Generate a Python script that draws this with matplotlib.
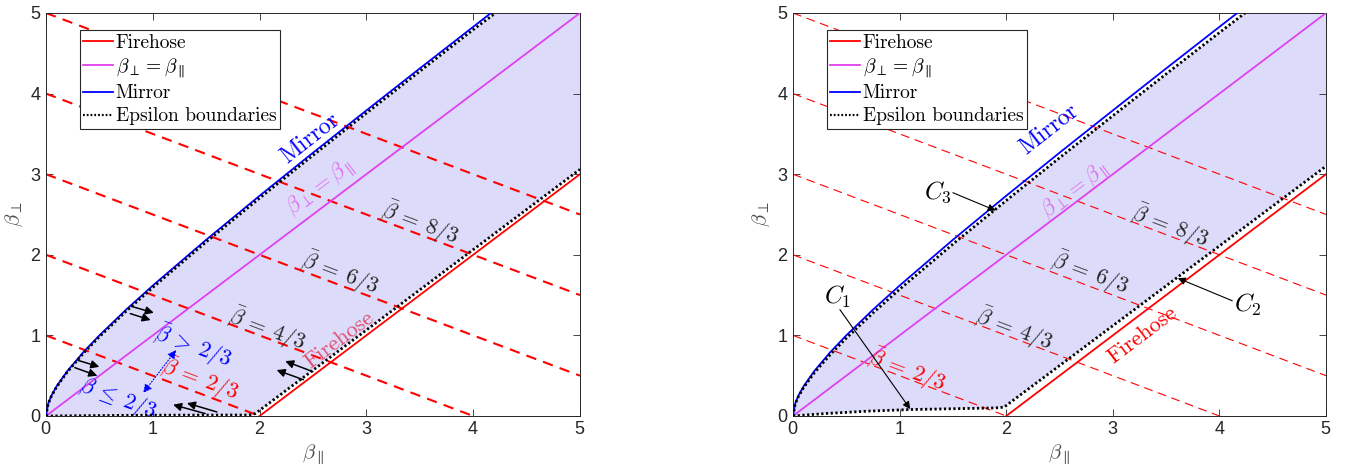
import matplotlib.pyplot as plt
from matplotlib.lines import Line2D

plt.rcParams['font.family'] = ['cmr10', 'DejaVu Serif']
plt.rcParams['mathtext.fontset'] = 'cm'
plt.rcParams['axes.formatter.use_mathtext'] = True
plt.rcParams['axes.unicode_minus'] = False

# firehose threshold and isotropy line
fire_x = [2.0, 5.0]
fire_y = [0.0, 3.0]
iso_x = [0.0, 5.0]
iso_y = [0.0, 5.0]

# mirror threshold
mirror_x = [0.0, 0.02, 0.05, 0.1, 0.2, 0.35, 0.5, 0.75, 1.0, 1.5, 2.0, 2.5, 3.0, 3.5, 4.0, 4.2]
mirror_y = [0.0, 0.152, 0.25, 0.37, 0.558, 0.792, 1.0, 1.319, 1.618, 2.186, 2.732, 3.266, 3.791, 4.312, 4.828, 5.034]

# epsilon boundaries, left panel
epsA_up_x = [0.0, 0.02, 0.05, 0.1, 0.2, 0.35, 0.5, 0.75, 1.0, 1.5, 2.0, 2.5, 3.0, 3.5, 4.0, 4.21]
epsA_up_y = [0.0, 0.148, 0.244, 0.362, 0.547, 0.778, 0.983, 1.299, 1.595, 2.16, 2.703, 3.234, 3.758, 4.277, 4.793, 5.0]
epsA_lo_x = [0.0, 1.0, 1.9, 1.96, 5.0]
epsA_lo_y = [0.0, 0.01, 0.012, 0.03, 3.06]

# epsilon boundaries, right panel
epsB_up_x = [0.0, 0.02, 0.05, 0.1, 0.2, 0.35, 0.5, 0.75, 1.0, 1.5, 2.0, 2.5, 3.0, 3.5, 4.0, 4.24]
epsB_up_y = [0.0, 0.145, 0.239, 0.354, 0.536, 0.763, 0.966, 1.278, 1.572, 2.133, 2.673, 3.203, 3.725, 4.243, 4.757, 5.0]
epsB_lo_x = [0.0, 0.3, 0.7, 1.1, 1.5, 1.9, 1.98, 5.0]
epsB_lo_y = [0.0, 0.03, 0.06, 0.08, 0.09, 0.1, 0.11, 3.1]

# constant mean-beta lines (2/3, 4/3, 6/3, 8/3, 10/3)
beta_bar_x = [[0, 2], [0, 4], [0, 5], [0, 5], [0, 5]]
beta_bar_y = [[1, 0], [2, 0], [3, 0.5], [4, 1.5], [5, 2.5]]

bar_labels = [r'$\bar{\beta}\:=\:4/3$', r'$\bar{\beta}\:=\:6/3$', r'$\bar{\beta}\:=\:8/3$']
bar_pos_A = [(2.07, 1.07), (2.75, 1.77), (3.50, 2.39)]
bar_pos_B = [(2.07, 1.07), (2.79, 1.77), (3.54, 2.35)]

fill_col = '#dcdcfa'
mag = '#e040f0'
FS = 16

fig = plt.figure(figsize=(13.56, 4.71), dpi=100)
axA = fig.add_axes([0.0339, 0.1168, 0.3938, 0.8556])
axB = fig.add_axes([0.5848, 0.1168, 0.3931, 0.8556])


def base(ax, up_x, up_y, lo_x, lo_y, dash_lw):
    px = up_x + [5.0] + lo_x[::-1]
    py = up_y + [5.0] + lo_y[::-1]
    ax.fill(px, py, color=fill_col, lw=0, zorder=1)
    for xs, ys in zip(beta_bar_x, beta_bar_y):
        ax.plot(xs, ys, color='r', ls=(0, (5, 3.5)) if dash_lw > 1 else (0, (8, 5)),
                lw=dash_lw, zorder=2)
    ax.plot(fire_x, fire_y, color='r', lw=1.3, zorder=3)
    ax.plot(iso_x, iso_y, color=mag, lw=1.3, zorder=3)
    ax.plot(mirror_x, mirror_y, color='b', lw=1.3, zorder=3)
    ax.plot(up_x, up_y, color='k', lw=2, ls=(0, (0.8, 0.9)), zorder=4)
    ax.plot(lo_x, lo_y, color='k', lw=2, ls=(0, (0.8, 0.9)), zorder=4)

    ax.set_xlim(0, 5)
    ax.set_ylim(0, 5)
    ax.set_xticks(range(6))
    ax.set_yticks(range(6))
    ax.tick_params(direction='in', top=True, right=True, length=5, width=0.6,
                   colors='0.15', labelsize=13, labelfontfamily='Liberation Sans')
    for s in ax.spines.values():
        s.set_color('0.15')
        s.set_linewidth(0.7)
    ax.set_xlabel(r'$\beta_\parallel$', fontsize=15, color='0.3', labelpad=3)
    ax.set_ylabel(r'$\beta_\perp$', fontsize=15, color='0.3', labelpad=3)

    handles = [Line2D([], [], color='r', lw=1.3),
               Line2D([], [], color=mag, lw=1.3),
               Line2D([], [], color='b', lw=1.3),
               Line2D([], [], color='k', lw=1.6, ls=(0, (0.8, 0.9)))]
    names = ['Firehose', r'$\beta_\perp=\beta_\parallel$', 'Mirror', 'Epsilon boundaries']
    leg = ax.legend(handles, names, loc='upper left', bbox_to_anchor=(0.063, 0.958),
                    fontsize=14, handlelength=1.5, handletextpad=0.15, labelspacing=0.25,
                    borderpad=0.2, borderaxespad=0, fancybox=False, framealpha=1,
                    edgecolor='0.15')
    leg.get_frame().set_linewidth(0.8)
    leg.set_zorder(10)


base(axA, epsA_up_x, epsA_up_y, epsA_lo_x, epsA_lo_y, 1.5)
base(axB, epsB_up_x, epsB_up_y, epsB_lo_x, epsB_lo_y, 0.8)

# left panel labels
axA.text(2.47, 3.45, 'Mirror', color='b', fontsize=FS + 1, rotation=38,
         ha='center', va='center', rotation_mode='anchor')
axA.text(2.57, 2.83, r'$\beta_\perp=\beta_\parallel$', color='#e070f0', fontsize=FS, rotation=37,
         ha='center', va='center', rotation_mode='anchor')
axA.text(2.75, 0.94, 'Firehose', color='#e05070', fontsize=FS, rotation=37,
         ha='center', va='center', rotation_mode='anchor')
for lab, (tx, ty) in zip(bar_labels, bar_pos_A):
    axA.text(tx, ty, lab, color='0.15', fontsize=FS, rotation=-20.7,
             ha='center', va='center', rotation_mode='anchor')
axA.text(1.44, 0.45, r'$\bar{\beta}\:=\:2/3$', color='r', fontsize=FS, rotation=-20.7,
         ha='center', va='center', rotation_mode='anchor')
axA.text(1.38, 0.86, r'$\bar{\beta}\:>\:2/3$', color='b', fontsize=FS, rotation=-20.7,
         ha='center', va='center', rotation_mode='anchor')
axA.text(0.67, 0.22, r'$\bar{\beta}\:\leq\:2/3$', color='b', fontsize=FS, rotation=-20.7,
         ha='center', va='center', rotation_mode='anchor')
axA.annotate('', xy=(0.91, 0.285), xytext=(1.22, 0.82),
             arrowprops=dict(arrowstyle='<|-|>', color='b', lw=0.8, ls=':',
                             mutation_scale=13, shrinkA=0, shrinkB=0), zorder=5)

# direction arrows pointing into the stable band
arrows_A = [((0.80, 1.36), (1.01, 1.28)), ((0.79, 1.27), (0.98, 1.19)),
            ((0.30, 0.69), (0.50, 0.61)), ((0.27, 0.60), (0.48, 0.50)),
            ((2.50, 0.55), (2.24, 0.68)), ((2.41, 0.45), (2.16, 0.57)),
            ((1.60, 0.05), (1.32, 0.16)), ((1.49, 0.03), (1.19, 0.14))]
for (x0, y0), (x1, y1) in arrows_A:
    axA.annotate('', xy=(x1, y1), xytext=(x0, y0),
                 arrowprops=dict(arrowstyle='-|>', color='k', lw=1.1,
                                 mutation_scale=12, shrinkA=0, shrinkB=0), zorder=5)

# right panel labels
axB.text(2.40, 3.55, 'Mirror', color='b', fontsize=FS + 1, rotation=38,
         ha='center', va='center', rotation_mode='anchor')
axB.text(2.65, 2.80, r'$\beta_\perp=\beta_\parallel$', color='#e070f0', fontsize=FS, rotation=37,
         ha='center', va='center', rotation_mode='anchor')
axB.text(3.28, 1.0, 'Firehose', color='r', fontsize=FS, rotation=37,
         ha='center', va='center', rotation_mode='anchor')
for lab, (tx, ty) in zip(bar_labels, bar_pos_B):
    axB.text(tx, ty, lab, color='0.15', fontsize=FS, rotation=-20.7,
             ha='center', va='center', rotation_mode='anchor')
axB.text(1.07, 0.57, r'$\bar{\beta}\:=\:2/3$', color='r', fontsize=FS, rotation=-20.7,
         ha='center', va='center', rotation_mode='anchor')

curve_notes = [(r'$C_1$', (0.42, 1.48), (0.44, 1.32), (1.10, 0.085)),
               (r'$C_2$', (4.27, 1.38), (4.12, 1.43), (3.61, 1.71)),
               (r'$C_3$', (1.36, 2.78), (1.50, 2.77), (1.90, 2.55))]
for lab, (tx, ty), (ax0, ay0), (ax1, ay1) in curve_notes:
    axB.text(tx, ty, lab, color='k', fontsize=FS + 2, ha='center', va='center')
    axB.annotate('', xy=(ax1, ay1), xytext=(ax0, ay0),
                 arrowprops=dict(arrowstyle='-|>', color='k', lw=0.8,
                                 mutation_scale=11, shrinkA=0, shrinkB=0), zorder=5)

fig.savefig('out.png', dpi=100)
